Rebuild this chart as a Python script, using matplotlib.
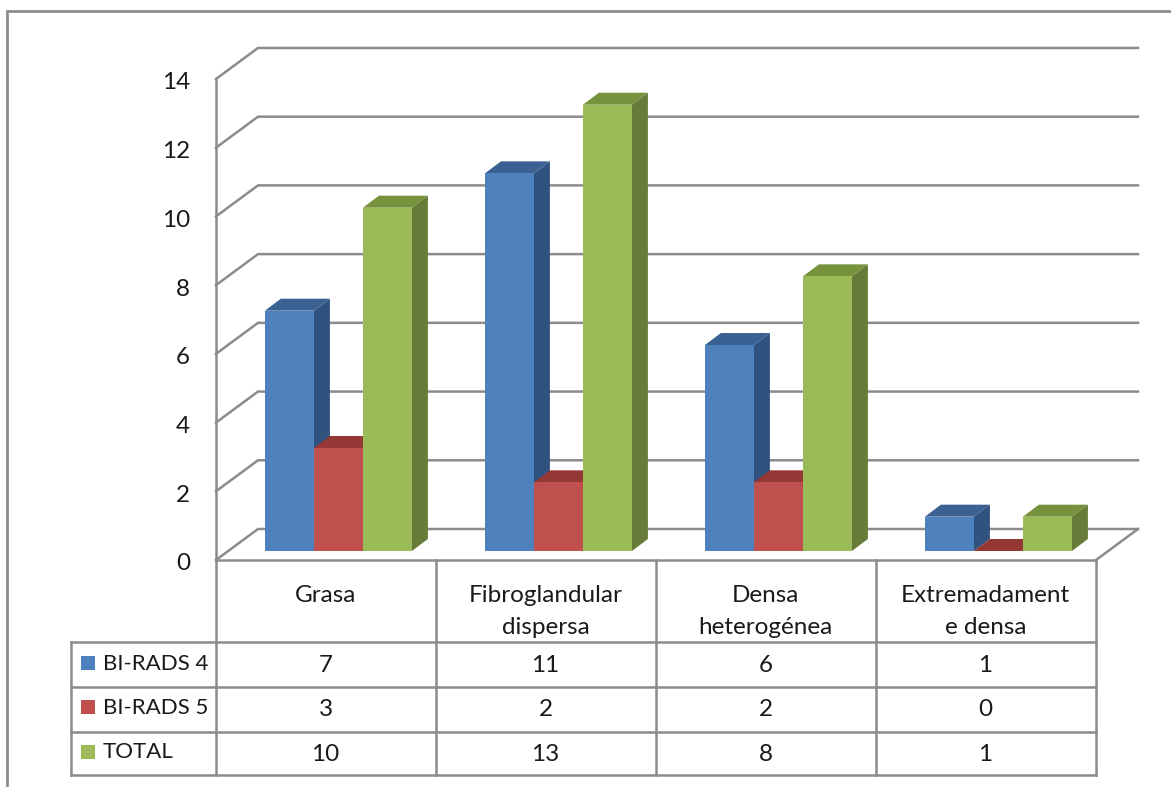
#!/usr/bin/env python3
import matplotlib
matplotlib.use('Agg')
import matplotlib.pyplot as plt
from matplotlib.patches import Polygon, Rectangle

plt.rcParams['font.family'] = ['Lato', 'DejaVu Sans']

W, H = 1171, 787
GRID = '#8C8C8C'
TXT = '#1A1A1A'
FS = 17.5
FS_LEG = 16

categories = ['Grasa', 'Fibroglandular\ndispersa', 'Densa\nheterogénea', 'Extremadament\ne densa']
series = ['BI-RADS 4', 'BI-RADS 5', 'TOTAL']
birads4 = [7, 11, 6, 1]
birads5 = [3, 2, 2, 0]
total = [10, 13, 8, 1]
yticks = [0, 2, 4, 6, 8, 10, 12, 14]

# front, side, top shades for each series
shades = [('#4F81BD', '#30527F', '#3A6192'),
          ('#C0504D', '#8A3331', '#953735'),
          ('#9BBB59', '#657B37', '#76923C')]

# wall and table geometry in pixels
wall_x, wall_r = 216, 1096
wall_y0 = 560
unit_wall = 34.36
off_x, off_y = 42, 31
col_x = [216, 436, 656, 876, 1096]
row_y = [560, 642, 687, 732, 775]
legend_x = 71

# bar scale: one category = 220 px, one value unit = 34.33 px
cat_px, val_px = 220, 34.33
cat0_px, base_px = 338.4, 551
bar_w = 49 / cat_px
depth_x, depth_y = 16 / cat_px, 12 / val_px

fig = plt.figure(figsize=(W / 100, H / 100), dpi=100, facecolor='white')

px = fig.add_axes([0, 0, 1, 1])
px.set_xlim(0, W)
px.set_ylim(H, 0)
px.axis('off')

ax = fig.add_axes([0, 0, 1, 1], zorder=2)
ax.set_xlim(-cat0_px / cat_px, (W - cat0_px) / cat_px)
ax.set_ylim(-(H - base_px) / val_px, base_px / val_px)
ax.axis('off')
ax.patch.set_alpha(0)


def line(xs, ys, lw=1.8):
    px.plot(xs, ys, color=GRID, lw=lw, solid_capstyle='projecting', solid_joinstyle='miter')


# outer frame
line([7, 7, W], [787, 11, 11], lw=2.0)

# walls and floor
for v in yticks:
    y = wall_y0 - unit_wall * v
    line([wall_x, wall_x + off_x, wall_x + off_x + wall_r - wall_x], [y, y - off_y, y - off_y])
    px.text(190, y + 4, str(v), ha='right', va='center', fontsize=FS, color=TXT)
line([wall_x, wall_x], [wall_y0, wall_y0 - unit_wall * yticks[-1]])
line([wall_r, wall_r + off_x], [wall_y0, wall_y0 - off_y])

# data table
line([wall_x, wall_r], [row_y[0], row_y[0]])
for y in row_y[1:]:
    line([legend_x, wall_r], [y, y])
for x in col_x:
    line([x, x], [row_y[0], row_y[-1]])
line([legend_x, legend_x], [row_y[1], row_y[-1]])

for i, cat in enumerate(categories):
    cx = (col_x[i] + col_x[i + 1]) / 2 - 0.5
    for k, part in enumerate(cat.split('\n')):
        px.text(cx, 596 + 31.5 * k, part, ha='center', va='center', fontsize=FS, color=TXT)

value_rows = [birads4, birads5, total]
row_text_y = [665.5, 709.5, 754.5]
swatch_y = [656, 700, 745]
for name, vals, ty, sy, shade in zip(series, value_rows, row_text_y, swatch_y, shades):
    px.add_patch(Rectangle((81, sy), 14, 13.5, fc=shade[0], ec='none'))
    px.text(103, ty - 2, name, ha='left', va='center', fontsize=FS_LEG, color=TXT)
    for i, v in enumerate(vals):
        cx = (col_x[i] + col_x[i + 1]) / 2 - 0.5
        px.text(cx, ty, str(v), ha='center', va='center', fontsize=FS, color=TXT)

# 3d-look columns: front face from bar, side and top as polygons
for j, (vals, shade) in enumerate(zip(value_rows, shades)):
    for i, v in enumerate(vals):
        left = i + (j - 1.5) * bar_w
        right = left + bar_w
        ax.add_patch(Polygon([(right, 0), (right + depth_x, depth_y),
                              (right + depth_x, v + depth_y), (right, v)],
                             fc=shade[1], ec='none', zorder=2 + j))
        ax.add_patch(Polygon([(left, v), (right, v),
                              (right + depth_x, v + depth_y), (left + depth_x, v + depth_y)],
                             fc=shade[2], ec='none', zorder=2 + j))
    ax.bar([i + (j - 1) * bar_w for i in range(len(vals))], vals, width=bar_w,
           color=shade[0], linewidth=0, zorder=2 + j)

fig.savefig('out.png', dpi=100, facecolor='white')
